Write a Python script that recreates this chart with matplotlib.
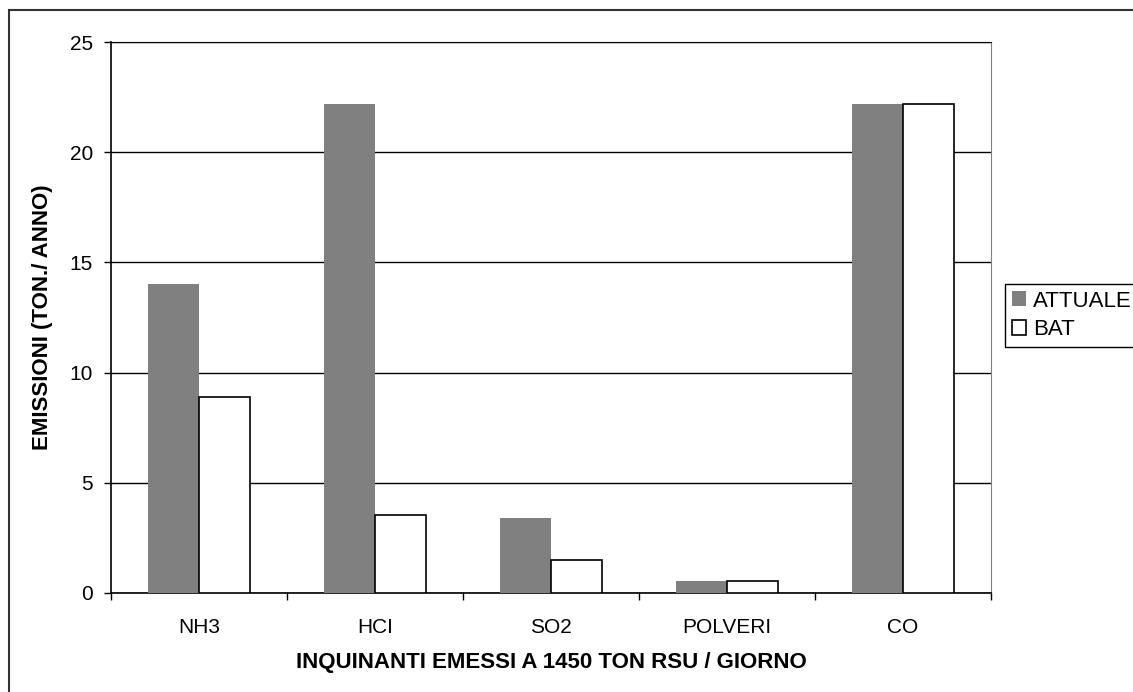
import matplotlib.pyplot as plt
import matplotlib.patches as mpatches
import numpy as np

plt.rcParams['font.family'] = ['Liberation Sans', 'DejaVu Sans']

# dati emissioni (ton/anno)
inquinanti = ['NH3', 'HCI', 'SO2', 'POLVERI', 'CO']
attuale = [14.0, 22.2, 3.4, 0.55, 22.2]
bat = [8.9, 3.55, 1.5, 0.55, 22.2]

fig = plt.figure(figsize=(11.33, 6.92), dpi=100)
ax = fig.add_axes([111/1133, 1-593/692, 880/1133, 551/692])

x = np.arange(len(inquinanti))
w = 0.29
ax.bar(x - w/2, attuale, w, color='#808080', edgecolor='none', label='ATTUALE', zorder=3)
ax.bar(x + w/2, bat, w, color='white', edgecolor='black', linewidth=1.2, label='BAT', zorder=3)

ax.set_xlim(-0.5, len(inquinanti) - 0.5)
ax.set_ylim(0, 25)
ax.set_yticks([0, 5, 10, 15, 20, 25])
ax.set_xticks(x)
ax.set_xticklabels(inquinanti)
ax.set_xticks(np.arange(-0.5, len(inquinanti)), minor=True)
ax.tick_params(axis='x', which='major', length=0, pad=18, labelsize=15)
ax.tick_params(axis='x', which='minor', length=5, width=1, direction='out')
ax.tick_params(axis='y', length=5, width=1, direction='out', pad=8, labelsize=15)

ax.yaxis.grid(True, color='black', linewidth=1, zorder=0)
ax.set_axisbelow(True)
ax.spines['top'].set_color('black')
ax.spines['right'].set_color('#808080')
for s in ['left', 'bottom']:
    ax.spines[s].set_linewidth(1.2)

ax.set_ylabel('EMISSIONI (TON./ ANNO)', fontsize=16, fontweight='bold', labelpad=12)
ax.set_xlabel('INQUINANTI EMESSI A 1450 TON RSU / GIORNO', fontsize=16, fontweight='bold', labelpad=11)

leg = fig.legend(loc='upper left', bbox_to_anchor=(1005/1133, 1-284/692),
                 fontsize=16, handlelength=0.65, handleheight=0.65, handletextpad=0.3,
                 labelspacing=0.35, borderpad=0.3, borderaxespad=0,
                 fancybox=False, framealpha=1, edgecolor='black')
leg.get_frame().set_linewidth(1)

# cornice esterna
fig.patches.append(mpatches.Rectangle((9/1133, -0.1), 1.2, 1.1 - 10/692,
                                      transform=fig.transFigure, fill=False,
                                      edgecolor='#333333', linewidth=1.5))

fig.savefig('out.png', dpi=100)
